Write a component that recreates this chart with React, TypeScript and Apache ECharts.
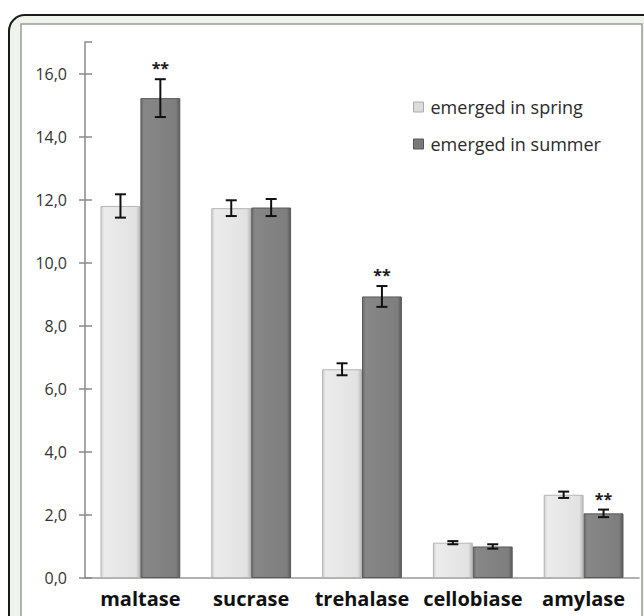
import React, { useEffect, useRef } from "react";
import * as echarts from "echarts";

const categories = ["maltase", "sucrase", "trehalase", "cellobiase", "amylase"];
const seriesNames = ["emerged in spring", "emerged in summer"];
const springValues = [11.8, 11.73, 6.62, 1.12, 2.64];
const springErrors = [0.37, 0.25, 0.19, 0.05, 0.1];
const springSig = [0, 0, 0, 0, 0];
const summerValues = [15.22, 11.75, 8.93, 1.0, 2.05];
const summerErrors = [0.6, 0.27, 0.33, 0.07, 0.12];
const summerSig = [1, 0, 1, 0, 1];
const yTicks = [0, 2, 4, 6, 8, 10, 12, 14, 16];

const BAR_FRACTION = 0.72;

function errorSeries(values: number[], errors: number[], sig: number[], sign: number) {
  return {
    type: "custom",
    silent: true,
    z: 5,
    encode: { x: 0, y: 1 },
    data: values.map((v, i) => [i, v, errors[i], sig[i]]),
    renderItem: (params: any, api: any) => {
      const i = api.value(0);
      const v = api.value(1);
      const e = api.value(2);
      const s = api.value(3);
      const bw = api.size([1, 0])[0];
      const off = (sign * bw * BAR_FRACTION) / 4;
      const top = api.coord([i, v + e]);
      const bot = api.coord([i, v - e]);
      const x = top[0] + off;
      const hw = 5.5;
      const st = { stroke: "#111", lineWidth: 2 };
      const children: any[] = [
        { type: "line", shape: { x1: x, y1: top[1], x2: x, y2: bot[1] }, style: st },
        { type: "line", shape: { x1: x - hw, y1: top[1], x2: x + hw, y2: top[1] }, style: st },
        { type: "line", shape: { x1: x - hw, y1: bot[1], x2: x + hw, y2: bot[1] }, style: st },
      ];
      if (s) {
        children.push({
          type: "text",
          style: {
            text: "**",
            x: x,
            y: top[1] - 3,
            align: "center",
            verticalAlign: "bottom",
            fill: "#1a1a1a",
            font: "bold 16px 'Open Sans', sans-serif",
          },
        });
      }
      return { type: "group", children };
    },
  };
}

export default function App() {
  const ref = useRef<HTMLDivElement>(null);
  useEffect(() => {
    if (!ref.current) return;
    const chart = echarts.init(ref.current, undefined, { renderer: "svg" });
    const springColor = new echarts.graphic.LinearGradient(0, 0, 1, 0, [
      { offset: 0, color: "#cfcfcf" },
      { offset: 0.08, color: "#ececec" },
      { offset: 0.9, color: "#e2e2e2" },
      { offset: 1, color: "#b8b8b8" },
    ]);
    const summerColor = new echarts.graphic.LinearGradient(0, 0, 1, 0, [
      { offset: 0, color: "#6a6a6a" },
      { offset: 0.08, color: "#878787" },
      { offset: 0.9, color: "#7e7e7e" },
      { offset: 1, color: "#5a5a5a" },
    ]);
    const axisCommon = {
      type: "value",
      min: 0,
      max: 17,
      interval: 2,
    };
    chart.setOption({
      animation: false,
      backgroundColor: "#ffffff",
      graphic: {
        elements: [
          {
            type: "rect",
            z: -20,
            silent: true,
            shape: { x: 9, y: 15, width: 700, height: 700, r: 16 },
            style: { fill: "#eef4ec", stroke: "#1a1a1a", lineWidth: 2 },
          },
          {
            type: "rect",
            z: -19,
            silent: true,
            shape: { x: 21, y: 24, width: 621, height: 700 },
            style: { fill: "#ffffff", stroke: "#9a9a9a", lineWidth: 1.5 },
          },
        ],
      },
      legend: {
        orient: "vertical",
        left: 408,
        top: 93,
        itemWidth: 10,
        itemHeight: 10,
        itemGap: 19,
        icon: "rect",
        data: [
          { name: seriesNames[0], itemStyle: { color: "#dcdcdc", borderColor: "#aaa", borderWidth: 1 } },
          { name: seriesNames[1], itemStyle: { color: "#7a7a7a", borderColor: "#555", borderWidth: 1 } },
        ],
        textStyle: {
          fontFamily: "'Open Sans', sans-serif",
          fontSize: 18,
          color: "#2a2a2a",
          padding: [0, 0, 0, 2],
        },
      },
      grid: { left: 85, right: 5, top: 42, bottom: 38 },
      xAxis: {
        type: "category",
        data: categories,
        axisTick: { show: false },
        axisLine: { lineStyle: { color: "#999", width: 1.5 } },
        axisLabel: {
          interval: 0,
          hideOverlap: false,
          margin: 10,
          fontFamily: "'Open Sans', sans-serif",
          fontWeight: "bold",
          fontSize: 20,
          color: "#111",
        },
      },
      yAxis: [
        {
          ...axisCommon,
          axisLine: { show: true, lineStyle: { color: "#8a8a8a", width: 1.5 } },
          axisTick: { show: true, length: 6, lineStyle: { color: "#8a8a8a", width: 1.5 } },
          splitLine: { show: false },
          axisLabel: {
            margin: 18,
            showMaxLabel: false,
            fontFamily: "'Open Sans', sans-serif",
            fontSize: 16,
            color: "#333",
            formatter: (v: number) => (yTicks.includes(v) ? v.toFixed(1).replace(".", ",") : ""),
          },
        },
        {
          ...axisCommon,
          position: "left",
          axisLine: { show: false },
          axisTick: { show: true, inside: true, length: 7, lineStyle: { color: "#8a8a8a", width: 1.5 } },
          splitLine: { show: false },
          axisLabel: { show: false },
        },
      ],
      series: [
        {
          name: seriesNames[0],
          type: "bar",
          data: springValues,
          barGap: "0%",
          barCategoryGap: "28%",
          itemStyle: { color: springColor, borderColor: "#b5b5b5", borderWidth: 1 },
        },
        {
          name: seriesNames[1],
          type: "bar",
          data: summerValues,
          barGap: "0%",
          barCategoryGap: "28%",
          itemStyle: { color: summerColor, borderColor: "#5a5a5a", borderWidth: 1 },
        },
        errorSeries(springValues, springErrors, springSig, -1),
        errorSeries(summerValues, summerErrors, summerSig, 1),
      ],
    });
    return () => chart.dispose();
  }, []);
  return (
    <div
      ref={ref}
      style={{ position: "absolute", left: 0, top: 0, width: 644, height: 616 }}
    />
  );
}
